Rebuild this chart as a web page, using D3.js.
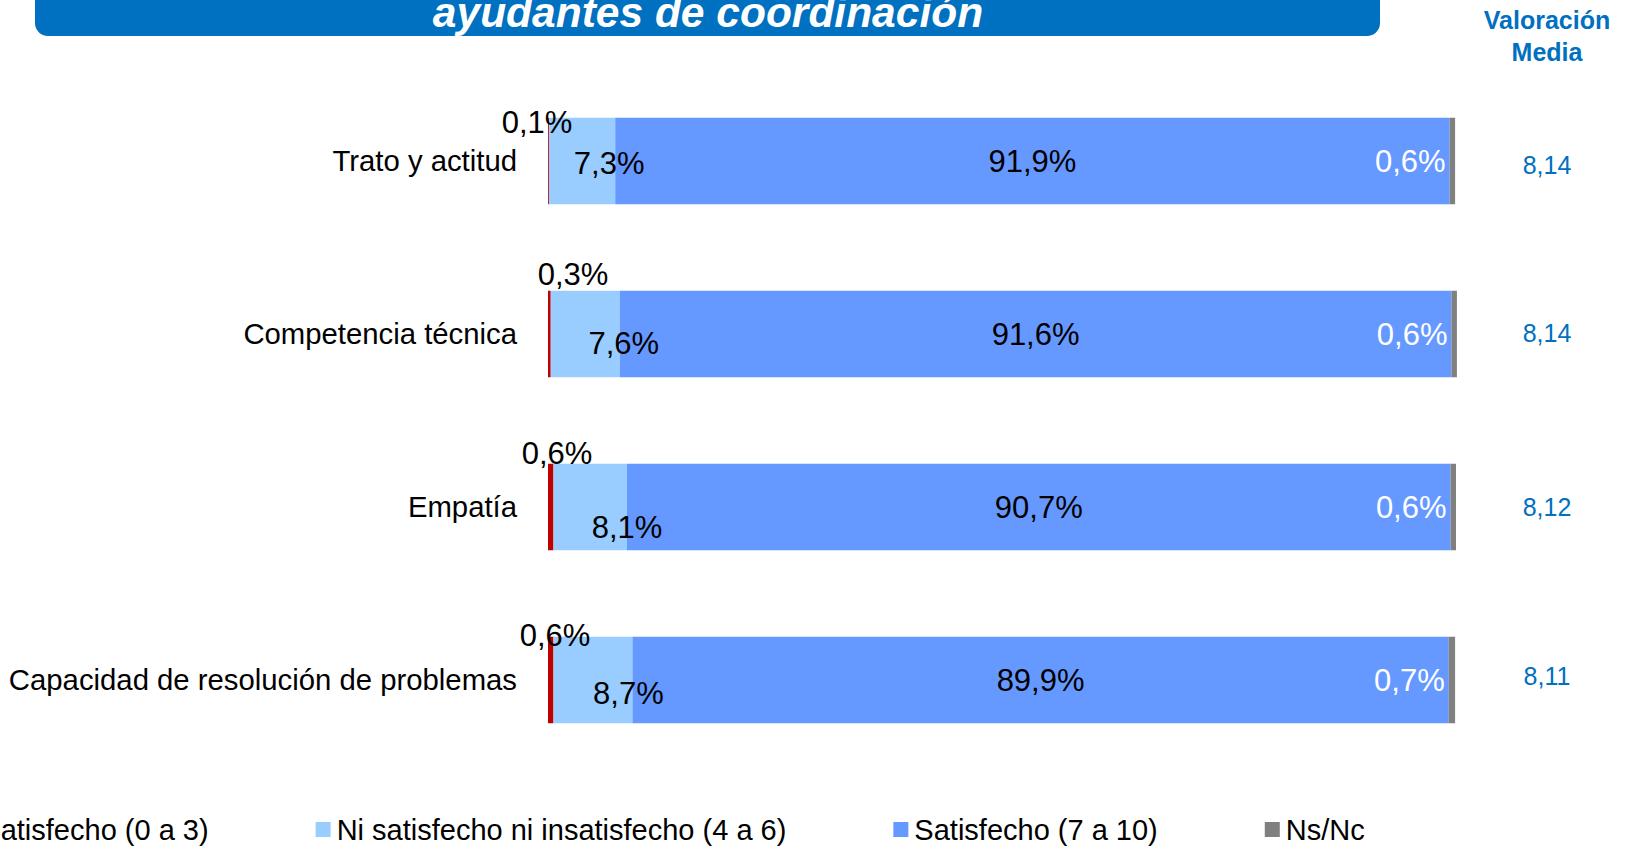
<!DOCTYPE html>
<html>
<head>
<meta charset="utf-8">
<style>
body { margin: 0; background: #fff; }
text { font-family: "Liberation Sans", Arial, sans-serif; }
</style>
</head>
<body>
<script src="https://cdn.jsdelivr.net/npm/d3@7"></script>
<script>
// data
var categories = ["Trato y actitud", "Competencia técnica", "Empatía", "Capacidad de resolución de problemas"];
var insatisfecho = [0.1, 0.3, 0.6, 0.6];
var niNi = [7.3, 7.6, 8.1, 8.7];
var satisfecho = [91.9, 91.6, 90.7, 89.9];
var nsnc = [0.6, 0.6, 0.6, 0.7];
var media = ["8,14", "8,14", "8,12", "8,11"];
var seriesNames = ["Insatisfecho (0 a 3)", "Ni satisfecho ni insatisfecho (4 a 6)", "Satisfecho (7 a 10)", "Ns/Nc"];
var colors = ["#C00000", "#99CCFF", "#6699FF", "#808080"];

// hand-placed labels on the original slide (px offsets)
var redNudge = [[-11, 4], [25, -17], [9, -11], [7, -2]];
var lightNudge = [[-6, 1.5], [4, 9], [0, 19.5], [-4, 13]];
var meanNudge = [4, -1, 0, -4];

var W = 1631, H = 846;
var fmt = function(v) { return d3.format(".1f")(v).replace(".", ",") + "%"; };

var svg = d3.select("body").append("svg")
  .attr("width", W)
  .attr("height", H);

// title banner (top cut off by the slide edge)
svg.append("rect")
  .attr("x", 35).attr("y", -40)
  .attr("width", 1345).attr("height", 76)
  .attr("rx", 13)
  .attr("fill", "#0070C0");
svg.append("text")
  .attr("x", 708).attr("y", 27)
  .attr("text-anchor", "middle")
  .attr("fill", "#fff")
  .attr("font-size", 42.5)
  .attr("font-weight", "bold")
  .attr("font-style", "italic")
  .text("ayudantes de coordinación");

var head = svg.append("text")
  .attr("text-anchor", "middle")
  .attr("fill", "#0070C0")
  .attr("font-size", 25)
  .attr("font-weight", "bold");
head.append("tspan").attr("x", 1547).attr("y", 29).text("Valoración");
head.append("tspan").attr("x", 1547).attr("y", 61).text("Media");

var x = d3.scaleLinear().domain([0, 100]).range([548, 1456]);
var y = d3.scaleBand().domain(categories).range([74.5, 766.5])
  .paddingInner(0.5).paddingOuter(0.25);

var rows = categories.map(function(c, i) {
  var vals = [insatisfecho[i], niNi[i], satisfecho[i], nsnc[i]];
  var acc = 0;
  var segs = vals.map(function(v, k) {
    var s = { k: k, v: v, x0: acc, x1: acc + v };
    acc += v;
    return s;
  });
  return { cat: c, i: i, segs: segs };
});

var row = svg.selectAll("g.row").data(rows).enter().append("g")
  .attr("class", "row")
  .attr("transform", function(d) { return "translate(0," + y(d.cat) + ")"; });

row.selectAll("rect").data(function(d) { return d.segs; }).enter().append("rect")
  .attr("x", function(d) { return x(d.x0); })
  .attr("width", function(d) { return x(d.x1) - x(d.x0); })
  .attr("height", y.bandwidth())
  .attr("fill", function(d) { return colors[d.k]; });

var bw = y.bandwidth();

// category names
row.append("text")
  .attr("x", 517).attr("y", bw / 2).attr("dy", "0.35em")
  .attr("text-anchor", "end")
  .attr("font-size", 29.3)
  .attr("fill", "#000")
  .text(function(d) { return d.cat; });

// insatisfecho labels (above the bar)
row.append("text")
  .attr("x", function(d) { return x(0) + redNudge[d.i][0]; })
  .attr("y", function(d) { return redNudge[d.i][1]; })
  .attr("dy", "0.36em")
  .attr("text-anchor", "middle")
  .attr("font-size", 31)
  .text(function(d) { return fmt(d.segs[0].v); });

// ni/ni labels
row.append("text")
  .attr("x", function(d) { return x(d.segs[1].x1) + lightNudge[d.i][0]; })
  .attr("y", function(d) { return bw / 2 + lightNudge[d.i][1]; })
  .attr("dy", "0.36em")
  .attr("text-anchor", "middle")
  .attr("font-size", 31)
  .text(function(d) { return fmt(d.segs[1].v); });

// satisfecho labels
row.append("text")
  .attr("x", function(d) { return (x(d.segs[2].x0) + x(d.segs[2].x1)) / 2; })
  .attr("y", bw / 2).attr("dy", "0.36em")
  .attr("text-anchor", "middle")
  .attr("font-size", 31)
  .text(function(d) { return fmt(d.segs[2].v); });

// ns/nc labels, white inside the blue
row.append("text")
  .attr("x", function(d) { return x(d.segs[3].x0) - 4; })
  .attr("y", bw / 2).attr("dy", "0.36em")
  .attr("text-anchor", "end")
  .attr("font-size", 31)
  .attr("fill", "#fff")
  .text(function(d) { return fmt(d.segs[3].v); });

// valoracion media
row.append("text")
  .attr("x", 1547)
  .attr("y", function(d) { return bw / 2 + meanNudge[d.i]; })
  .attr("dy", "0.36em")
  .attr("text-anchor", "middle")
  .attr("font-size", 25)
  .attr("fill", "#0070C0")
  .text(function(d) { return media[d.i]; });

// legend (first entry runs off the left edge)
var lx = -59;
seriesNames.forEach(function(name, k) {
  var g = svg.append("g").attr("transform", "translate(" + lx + ",822)");
  g.append("rect").attr("width", 15).attr("height", 15).attr("fill", colors[k]);
  var t = g.append("text")
    .attr("x", 21).attr("y", 7.5).attr("dy", "0.36em")
    .attr("font-size", 29)
    .text(name);
  lx += 21 + t.node().getComputedTextLength() + 107;
});
</script>
</body>
</html>
